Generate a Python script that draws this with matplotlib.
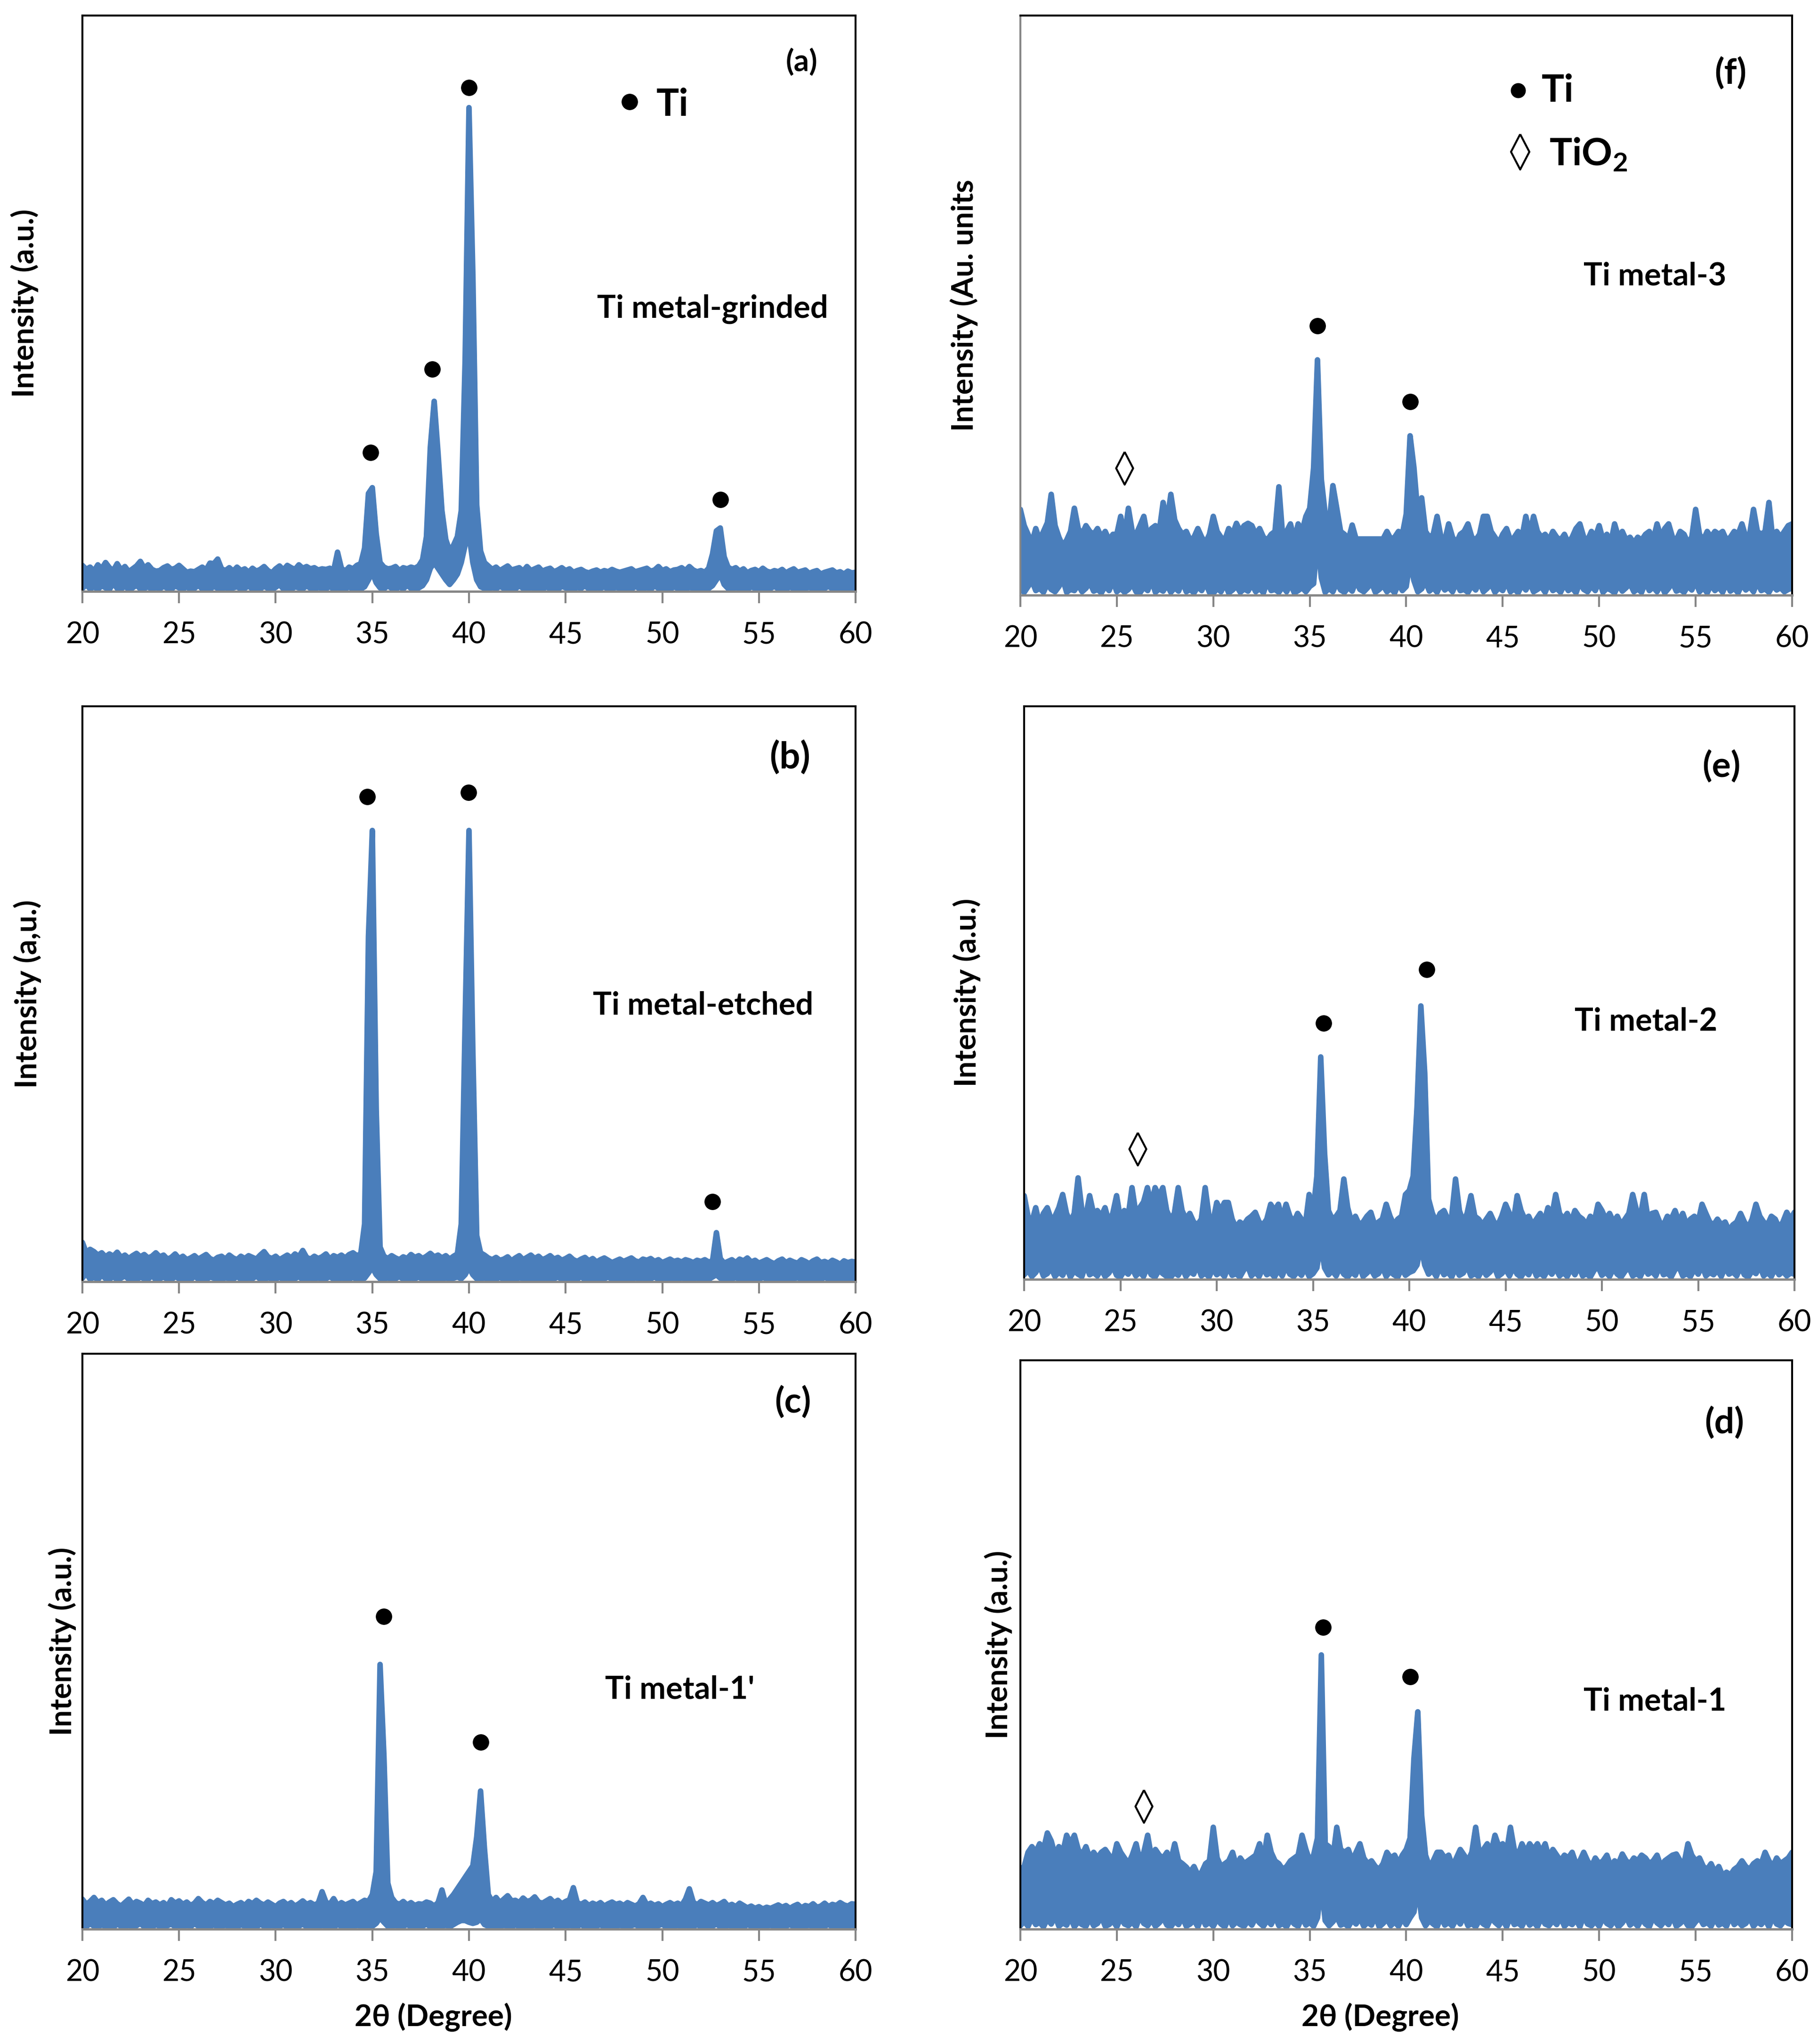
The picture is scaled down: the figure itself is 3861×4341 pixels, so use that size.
import numpy as np
import matplotlib
matplotlib.use('Agg')
import matplotlib.pyplot as plt

plt.rcParams['font.family'] = ['Lato', 'DejaVu Sans']
plt.rcParams['mathtext.fontset'] = 'custom'
plt.rcParams['mathtext.rm'] = 'Lato'
plt.rcParams['mathtext.bf'] = 'Lato:bold'

# 2-theta sampling grid (degrees)
TWO_THETA = np.round(np.arange(201) * 0.2 + 20.0, 1)

# ---- intensity envelopes (percent of panel height) ----
A_UP = [4.5,3.8,4.2,3.5,4.6,3.9,5.0,4.1,3.6,4.8,3.7,4.3,3.4,3.9,4.4,5.2,4.0,4.6,3.8,3.5,
        3.6,4.1,4.4,3.8,4.0,4.5,3.9,3.3,3.5,3.4,3.8,4.2,3.7,4.9,4.8,5.6,3.9,3.6,4.1,3.5,
        4.2,3.6,3.9,3.3,4.0,3.5,3.8,4.3,3.6,3.2,3.9,4.4,3.7,4.5,4.1,3.8,4.6,4.0,4.3,3.9,
        4.1,3.7,3.9,3.8,4.0,3.6,6.8,4.0,3.5,4.2,3.9,4.5,4.8,7.5,17.0,18.0,10.0,5.0,4.2,3.9,
        4.0,4.3,3.6,4.1,3.9,4.2,4.0,4.4,5.5,9.5,25.0,33.0,24.0,14.0,9.0,7.0,8.0,9.5,14.0,40.0,
        84.0,55.0,15.0,7.0,5.0,4.4,3.8,4.2,3.6,4.0,4.4,3.7,3.9,4.1,3.5,4.3,3.6,3.9,4.2,3.5,
        3.8,4.0,3.4,3.7,4.1,3.6,3.9,3.3,3.6,3.8,3.4,3.2,3.5,3.7,3.3,3.6,3.4,3.8,3.5,3.3,
        3.5,3.7,3.9,3.4,3.6,3.8,4.0,3.5,3.7,4.3,3.6,3.9,3.4,3.7,3.8,4.1,3.6,4.3,3.7,3.4,
        3.6,3.3,4.0,6.5,10.5,11.0,6.0,4.2,3.8,4.1,3.5,3.9,3.2,3.6,3.8,3.4,4.0,3.5,3.3,3.6,
        3.4,3.8,3.2,3.6,3.9,3.3,3.5,3.7,3.1,3.4,3.6,3.0,3.3,3.5,3.7,3.2,3.4,3.0,3.5,3.2,
        3.3]
A_LO = [0.5,1.2,0.4,0.8,0.3,1.0,0.6,0.3,1.5,0.5,0.4,0.9,0.3,0.6,1.1,0.4,0.5,0.8,0.3,0.7,
        0.4,0.9,0.5,0.3,1.0,0.6,0.4,0.8,0.3,0.5,1.1,0.4,0.6,0.3,0.9,0.5,0.4,0.7,0.3,0.6,
        0.8,0.4,0.5,1.0,0.3,0.6,0.4,0.9,0.5,0.3,0.7,1.2,0.4,0.5,0.3,0.8,0.6,0.4,1.0,0.5,
        0.3,0.7,0.5,0.4,0.9,0.3,0.6,0.5,0.4,0.8,0.3,0.5,0.4,0.8,2.0,3.3,1.5,0.6,0.4,1.0,
        0.5,0.3,0.8,0.4,1.1,0.5,0.3,0.6,1.0,2.0,4.0,5.0,4.0,3.0,2.0,1.2,2.0,3.0,5.0,8.0,
        10.0,5.0,2.0,0.8,0.5,0.3,0.7,0.4,0.9,0.5,0.3,0.6,0.4,1.0,0.5,0.3,0.7,0.4,0.6,0.3,
        0.8,0.4,0.5,0.3,0.9,0.6,0.4,0.3,0.7,0.5,1.0,0.4,0.3,0.6,0.5,0.8,0.3,0.4,0.7,0.5,
        0.4,0.6,0.3,0.9,0.5,0.4,0.7,0.3,1.0,0.5,0.4,0.6,0.3,0.8,0.5,0.4,0.3,0.7,0.5,0.4,
        0.6,0.3,0.5,1.0,2.0,3.0,1.2,0.5,0.3,0.7,0.4,0.6,0.3,0.8,0.5,0.4,0.6,0.3,0.5,0.9,
        0.4,0.5,0.3,0.8,0.4,0.6,0.3,0.5,0.7,0.4,0.3,0.6,0.5,0.9,0.4,0.3,0.6,0.5,0.4,0.3,
        0.5]

B_UP = [6.8,5.0,5.6,5.2,4.6,5.0,4.3,4.8,4.4,5.1,4.2,4.6,4.0,4.5,4.9,4.3,4.7,4.1,4.4,5.0,
        4.3,4.6,3.9,4.2,4.8,4.0,4.4,3.8,4.1,4.5,3.9,4.3,4.7,4.0,3.7,4.2,4.4,3.9,4.6,4.1,
        3.8,4.4,4.0,4.5,4.2,3.9,4.6,5.2,4.3,4.0,4.4,3.8,4.2,4.6,4.1,4.8,4.3,5.4,4.2,3.9,
        4.4,4.0,4.3,4.8,3.9,4.5,4.2,4.6,4.1,4.7,5.0,4.5,4.8,10.0,60.0,78.4,30.0,6.0,4.4,4.0,
        4.5,4.1,3.8,4.3,4.0,4.7,4.2,4.5,4.0,4.4,4.9,4.3,4.6,4.1,4.5,3.9,4.4,4.8,10.0,45.0,
        78.4,40.0,8.0,5.0,4.6,4.1,3.8,4.2,3.7,3.9,4.3,3.6,4.1,4.5,3.8,4.2,4.6,4.0,4.4,3.8,
        4.1,4.5,3.9,4.2,3.7,4.0,4.4,3.8,3.5,3.9,4.2,3.6,4.0,3.4,3.8,4.1,3.7,3.3,3.6,3.9,
        3.5,3.8,4.1,3.6,3.4,3.9,3.7,4.0,3.5,3.8,3.3,3.6,3.9,3.5,3.7,3.4,3.8,3.6,3.3,3.7,
        3.5,3.8,3.4,3.6,8.5,4.0,3.2,3.5,3.8,3.3,3.9,3.6,4.1,3.4,3.7,3.2,3.5,3.8,3.4,3.1,
        3.6,3.9,3.3,3.7,3.4,3.2,3.8,3.5,3.1,3.6,3.9,3.3,3.5,3.2,3.7,3.4,3.0,3.6,3.3,3.5,
        3.4]
B_LO = [0.6,1.5,0.4,0.8,0.3,1.2,0.5,0.4,0.9,0.3,0.6,1.0,0.4,0.5,0.3,0.8,0.5,0.4,1.1,0.3,
        0.5,0.8,0.4,0.3,0.9,0.5,0.4,0.6,0.3,1.0,0.4,0.5,0.3,0.8,0.6,0.4,0.3,0.7,0.5,0.4,
        0.9,0.4,0.3,0.6,0.5,1.0,0.4,0.3,0.7,0.5,0.4,0.8,0.3,0.6,0.4,0.5,0.9,0.3,0.4,0.6,
        0.4,0.7,0.3,0.5,0.9,0.4,0.3,0.6,0.5,0.4,0.8,0.3,0.5,0.6,1.5,2.5,1.2,0.5,0.4,0.7,
        0.3,0.5,0.9,0.4,0.3,0.6,0.5,0.8,0.4,0.3,0.6,0.4,0.5,0.3,0.7,0.4,0.6,0.8,0.5,1.2,
        2.5,1.2,0.5,0.4,0.7,0.3,0.5,0.4,0.8,0.3,0.6,0.4,0.3,0.7,0.5,0.4,0.6,0.3,0.5,0.4,
        0.6,0.3,0.5,0.8,0.4,0.3,0.6,0.5,0.4,0.9,0.3,0.5,0.4,0.6,0.3,0.5,0.8,0.4,0.3,0.5,
        0.4,0.5,0.3,0.7,0.4,0.6,0.3,0.5,0.8,0.4,0.3,0.6,0.4,0.5,0.3,0.7,0.4,0.3,0.5,0.6,
        0.3,0.5,0.4,0.8,1.2,0.6,0.4,0.3,0.5,0.7,0.4,0.3,0.6,0.4,0.5,0.3,0.8,0.4,0.5,0.3,
        0.5,0.4,0.6,0.3,0.5,0.7,0.4,0.3,0.6,0.4,0.5,0.3,0.8,0.4,0.3,0.5,0.4,0.6,0.3,0.5,
        0.4]

C_UP = [5.2,4.3,4.8,5.5,4.6,5.0,4.2,4.7,5.1,4.4,4.0,4.6,5.2,4.3,4.8,4.5,4.1,5.0,4.4,4.7,
        4.2,4.6,4.0,5.1,4.5,4.9,4.3,4.7,4.1,4.5,5.3,4.6,4.2,4.8,4.4,5.0,4.6,4.2,4.5,3.9,
        4.3,4.6,4.1,4.8,4.4,5.0,4.5,4.2,4.7,4.3,3.9,4.5,4.8,4.2,4.6,4.0,4.4,4.9,4.3,4.6,
        4.2,4.5,6.5,4.7,4.3,5.3,4.1,4.6,4.2,4.5,4.8,4.2,4.6,5.0,4.8,6.0,10.0,46.0,30.0,8.0,
        5.5,4.6,4.3,4.8,4.2,4.6,4.1,4.4,4.3,4.7,4.5,4.0,4.6,6.8,4.3,5.2,6.0,7.0,8.0,9.0,
        10.0,11.0,16.0,24.0,14.0,6.0,4.8,5.5,4.6,5.2,5.8,4.9,5.0,4.6,5.4,4.8,5.0,5.6,4.7,4.5,
        4.9,5.3,4.6,5.0,4.4,4.8,5.1,7.2,4.6,4.3,4.7,4.1,4.5,4.2,4.6,4.0,4.4,4.7,4.3,4.5,
        4.1,4.6,4.3,4.0,4.4,5.5,4.2,4.5,4.1,4.4,3.9,4.3,4.6,4.2,4.5,4.1,5.2,7.0,4.7,4.2,
        4.8,4.5,4.2,4.6,4.1,4.4,4.8,4.0,4.3,3.9,4.5,4.1,3.7,4.0,3.6,3.9,3.5,3.8,3.6,3.9,
        4.2,3.8,4.1,3.6,4.0,4.3,3.7,4.1,3.9,4.4,3.8,4.0,4.5,3.9,4.3,4.1,4.6,4.2,4.0,4.4,
        4.3]
C_LO = [0.7,0.4,1.0,0.5,0.3,0.8,0.4,0.6,0.3,0.9,0.5,0.4,0.7,0.3,0.6,1.0,0.4,0.5,0.3,0.8,
        0.5,0.3,0.6,0.9,0.4,0.5,0.3,0.7,0.4,1.0,0.5,0.3,0.6,0.4,0.8,0.3,0.5,0.7,0.4,0.6,
        0.3,0.8,0.5,0.4,0.6,0.3,0.9,0.5,0.4,0.7,0.3,0.5,0.8,0.4,0.6,0.3,0.5,0.9,0.4,0.6,
        0.5,0.3,0.7,0.4,0.6,0.3,0.8,0.5,0.4,0.6,0.3,0.7,0.5,0.4,0.6,0.5,1.0,2.0,1.2,0.5,
        0.4,0.7,0.3,0.5,0.8,0.4,0.6,0.3,0.5,0.9,0.4,0.3,0.6,0.5,0.7,0.4,0.8,1.2,1.5,1.5,
        1.2,1.0,1.2,1.8,0.8,0.5,0.3,0.6,0.4,0.7,0.5,0.3,0.8,0.4,0.6,0.3,0.5,0.7,0.4,0.6,
        0.3,0.5,0.8,0.4,0.6,0.3,0.7,0.5,0.4,0.9,0.3,0.6,0.4,0.5,0.8,0.3,0.5,0.6,0.4,0.7,
        0.5,0.3,0.6,0.8,0.4,0.5,0.3,0.7,0.4,0.6,0.9,0.3,0.5,0.4,0.7,0.3,0.6,0.5,0.4,0.8,
        0.4,0.6,0.3,0.5,0.9,0.4,0.3,0.7,0.5,0.4,0.6,0.3,0.8,0.5,0.4,0.6,0.3,0.5,0.7,0.4,
        0.6,0.3,0.5,0.8,0.4,0.6,0.3,0.5,0.7,0.4,0.3,0.6,0.5,0.8,0.4,0.3,0.6,0.5,0.4,0.7,
        0.5]

F_UP = [14.8,12.0,10.5,9.0,11.5,9.5,11.0,12.5,17.4,12.0,10.0,8.5,9.5,11.0,15.0,11.5,10.5,12.0,11.0,10.5,
        11.5,10.0,11.0,9.5,10.5,10.5,13.6,10.0,15.0,11.0,10.5,12.0,13.6,10.0,11.5,12.0,11.0,16.0,12.5,17.4,
        13.0,11.5,10.5,11.0,9.5,10.0,11.5,10.0,9.0,10.5,13.6,11.0,10.0,9.5,11.5,10.5,12.4,11.0,12.0,12.4,
        12.0,10.5,11.5,10.0,9.5,10.5,11.0,18.7,10.0,11.0,12.3,9.5,12.3,11.0,13.6,15.0,22.0,40.6,20.0,14.0,
        12.0,18.9,15.0,11.0,10.5,9.5,12.1,9.7,9.7,9.7,9.7,9.7,9.7,9.7,9.7,11.0,9.7,10.0,11.0,10.5,
        14.0,27.5,22.0,14.0,16.8,11.0,10.0,10.5,13.6,10.0,9.5,12.3,10.0,9.0,10.5,11.0,12.3,10.0,9.5,10.5,
        13.6,13.6,11.0,10.0,9.0,10.5,11.5,9.5,10.0,11.0,10.0,13.6,10.5,13.6,11.0,10.0,10.5,9.5,11.0,10.0,
        9.5,10.5,9.0,10.0,11.5,12.3,10.0,9.5,11.0,10.0,12.0,9.5,10.5,9.0,12.3,10.0,11.0,9.5,10.0,9.0,
        10.0,9.5,10.5,11.0,9.5,12.3,10.0,11.5,12.3,10.0,9.5,11.0,10.5,9.0,10.0,14.8,10.5,9.5,11.0,10.0,
        11.0,10.5,11.0,9.5,10.0,11.0,10.5,12.3,10.0,10.5,14.8,11.0,10.5,11.0,16.0,9.5,11.0,10.0,11.0,12.0,
        12.3]
F_LO = [1.0,0.5,1.5,2.5,0.8,1.2,0.5,2.0,1.0,0.6,1.5,2.8,0.5,1.0,0.8,1.8,0.6,1.2,2.2,0.7,
        1.0,0.4,1.6,0.8,2.5,0.6,1.2,0.5,1.0,2.0,0.6,0.4,1.4,0.8,2.6,0.5,1.1,0.7,1.8,0.5,
        1.3,0.7,2.4,0.6,1.0,0.4,1.5,0.8,2.2,0.5,0.3,1.2,0.6,2.0,0.4,0.9,1.6,0.5,1.1,0.7,
        1.9,0.6,1.2,0.4,2.4,0.8,1.0,0.5,1.5,0.6,2.0,0.4,0.8,1.3,0.6,1.5,2.0,10.0,3.0,0.5,
        1.2,0.6,2.2,0.9,0.5,1.4,0.7,2.5,1.0,0.6,1.3,2.2,0.5,1.0,1.7,0.6,1.2,0.4,2.0,0.8,
        1.5,6.0,2.5,0.6,1.1,2.4,0.7,1.3,0.5,2.0,0.9,1.4,0.6,2.2,0.8,1.0,0.5,1.7,0.9,2.3,
        0.6,1.2,2.0,0.5,1.3,0.8,2.4,0.6,1.1,0.4,1.8,0.9,2.2,0.6,1.0,1.5,0.5,2.1,0.8,1.2,
        0.5,1.9,0.8,1.3,0.4,2.2,1.0,0.6,1.6,0.8,2.5,0.5,1.2,0.9,0.4,1.8,0.7,1.3,2.0,0.6,
        1.1,0.5,2.3,0.8,1.4,0.6,1.9,0.4,1.2,2.2,0.7,1.0,0.5,1.6,0.9,2.4,0.6,1.3,0.4,1.8,
        0.8,1.4,0.5,2.1,0.7,1.2,0.4,1.9,0.9,1.5,0.6,2.3,0.8,1.1,0.5,1.7,0.9,1.3,0.6,1.0,
        1.2]

E_UP = [14.6,11.0,10.0,12.5,9.5,11.5,12.5,10.5,11.0,12.5,14.8,11.5,10.0,11.5,17.7,12.0,11.0,14.6,11.5,12.0,
        11.0,12.5,10.0,11.5,14.6,10.5,12.0,11.0,16.0,11.5,12.5,13.5,16.0,13.0,16.0,14.5,16.0,12.0,10.5,11.5,
        16.0,12.0,10.5,11.5,10.0,9.5,10.5,16.0,11.0,10.0,13.4,12.0,13.4,13.4,10.5,9.0,10.0,9.5,10.5,11.0,
        11.7,10.0,9.5,10.5,13.1,12.0,13.1,10.5,13.1,11.0,10.0,11.5,10.5,9.5,14.8,11.5,18.0,38.8,22.0,12.0,
        10.5,11.0,12.0,17.5,12.5,10.0,11.0,9.5,10.0,11.0,11.7,9.5,10.0,10.5,13.1,11.0,9.5,10.5,11.0,14.8,
        15.5,18.0,30.0,47.7,36.0,14.0,11.5,10.0,11.5,12.0,10.5,11.0,17.5,12.0,10.0,11.5,14.6,11.0,10.5,9.5,
        10.5,11.5,10.0,9.5,11.0,13.1,11.5,10.0,14.6,12.0,10.5,11.0,9.5,10.5,11.5,10.0,12.5,11.0,14.8,11.5,
        10.5,11.5,10.0,12.0,11.0,10.5,9.5,11.0,10.0,13.1,12.0,10.5,11.5,10.0,11.0,9.5,10.5,11.5,14.8,12.0,
        11.0,14.8,10.5,11.5,11.7,10.0,9.5,11.0,10.5,12.0,10.0,11.5,9.5,10.5,11.0,10.0,13.1,11.5,10.0,9.5,
        10.5,9.5,10.0,8.5,9.5,10.0,11.5,10.0,9.0,10.5,13.1,11.0,10.0,9.5,11.0,10.5,9.0,10.0,11.7,10.5,
        11.7]
E_LO = [0.8,1.6,0.5,1.2,2.4,0.6,1.0,2.0,0.5,1.3,0.7,2.2,0.4,1.5,0.9,0.5,2.6,0.8,1.2,0.6,
        1.8,0.5,1.1,2.3,0.7,0.4,1.5,0.9,2.0,0.6,1.3,0.5,2.2,0.8,0.4,1.6,1.0,0.5,0.3,1.2,
        0.7,2.0,0.5,1.4,0.9,2.5,0.6,1.1,0.4,1.9,0.8,1.3,0.5,2.2,0.7,1.0,0.4,1.6,2.4,0.6,
        1.3,0.5,2.0,0.8,1.2,0.4,1.7,0.6,2.3,0.9,0.5,1.4,0.7,2.0,0.5,1.0,2.0,6.4,2.0,0.8,
        1.5,0.6,2.1,0.9,0.4,1.3,0.7,2.4,0.5,1.1,1.8,0.6,1.0,2.2,0.5,1.4,0.8,0.4,1.9,0.7,
        1.2,1.5,2.5,6.0,2.5,0.9,1.6,0.5,2.2,0.8,1.3,0.4,2.0,0.7,1.1,2.4,0.6,1.0,0.5,1.8,
        0.7,1.3,2.3,0.5,1.0,1.8,0.6,2.1,0.9,0.4,1.5,0.8,2.4,0.6,1.1,0.5,1.7,0.9,2.0,0.6,
        1.2,0.5,1.9,0.8,2.3,0.6,1.0,0.4,1.6,2.2,0.7,1.3,0.5,1.9,0.9,0.4,1.4,2.1,0.6,1.0,
        0.5,2.0,0.9,1.4,0.6,2.3,0.8,1.1,0.4,1.7,2.2,0.6,1.0,0.5,1.8,0.9,2.4,0.6,1.2,0.8,
        1.6,0.5,2.1,0.9,1.3,0.6,2.2,0.8,0.4,1.5,1.0,2.3,0.6,1.2,0.5,1.9,0.8,1.4,0.6,1.1,
        0.9]

D_UP = [10.5,11.0,13.5,14.5,13.5,15.0,14.0,16.9,15.5,13.0,14.5,13.5,16.5,15.0,16.5,14.0,13.0,14.5,12.5,13.5,
        12.5,13.5,14.0,13.0,12.0,15.0,13.5,12.5,11.5,13.0,15.0,12.0,13.5,16.5,12.5,14.0,13.0,12.5,13.5,12.0,
        15.0,12.0,11.5,10.9,10.0,11.0,9.5,10.0,11.5,12.0,17.9,12.5,11.0,11.5,12.0,13.5,11.0,12.5,11.5,12.0,
        12.5,13.0,15.0,12.0,16.5,13.5,12.0,11.5,10.5,11.0,12.0,12.5,13.0,16.5,14.0,12.0,13.0,16.0,48.2,15.0,
        14.5,12.5,17.9,14.0,13.5,14.0,12.0,13.5,15.0,12.5,11.5,12.0,11.0,10.5,11.5,13.5,12.5,13.0,11.5,13.0,
        14.0,16.0,30.0,38.2,20.0,13.0,11.0,12.0,13.5,13.5,12.5,13.0,11.0,12.5,14.0,13.0,12.0,13.5,17.9,13.0,
        14.0,15.0,13.5,16.5,14.5,15.0,13.5,17.9,14.0,13.0,15.0,13.5,15.0,14.0,15.0,13.5,15.0,12.5,14.0,13.0,
        12.0,13.0,12.5,13.5,11.5,12.0,13.5,12.0,11.0,12.5,11.5,12.0,13.0,11.0,12.0,11.5,13.2,12.0,11.5,12.5,
        12.0,13.0,12.5,11.5,12.0,13.0,11.0,12.0,12.5,13.0,13.2,12.0,11.5,15.0,13.0,12.0,12.5,11.0,10.5,11.5,
        10.0,11.0,9.4,10.0,9.5,10.5,11.0,12.0,11.0,10.5,11.5,12.0,11.5,13.5,12.0,11.0,12.5,11.5,12.0,12.5,
        13.5]
D_LO = [0.6,1.4,0.5,2.0,0.8,1.2,0.4,1.8,0.9,2.3,0.5,1.1,0.7,2.1,0.4,1.3,0.8,0.5,1.9,0.6,
        1.0,2.2,0.5,0.8,1.5,0.4,2.0,0.9,0.6,1.3,0.4,2.3,1.0,0.6,1.7,0.5,1.1,2.0,0.7,0.4,
        1.4,0.8,2.1,0.5,0.9,1.6,0.4,2.2,0.7,1.2,0.5,1.8,0.9,0.4,2.0,0.6,1.3,0.8,0.5,1.5,
        0.7,2.0,1.1,0.5,1.6,0.8,2.3,0.6,1.0,0.4,1.7,0.9,0.5,2.1,0.7,1.2,0.5,2.0,7.9,1.5,
        0.6,1.3,2.2,0.7,1.0,0.4,1.6,0.9,2.0,0.5,1.2,0.7,2.3,0.4,1.0,1.8,0.6,1.3,0.5,1.9,
        0.8,2.0,3.0,7.5,2.0,0.6,1.5,0.9,0.4,2.1,0.7,1.2,0.5,1.8,0.9,2.3,0.6,1.0,0.4,1.6,
        0.9,0.5,2.0,1.2,0.6,1.7,0.4,2.2,0.8,1.1,0.5,1.9,0.7,1.3,0.4,2.0,0.9,0.6,1.5,0.8,
        2.1,0.5,1.2,0.8,1.7,0.4,2.3,0.9,0.6,1.4,0.5,2.0,1.0,0.6,1.6,0.4,1.1,2.2,0.7,1.3,
        0.5,1.8,0.9,0.4,2.1,1.1,0.6,1.5,0.8,2.3,0.5,1.0,1.7,0.6,0.4,1.3,2.0,0.8,1.2,0.5,
        1.9,0.7,1.1,0.5,2.2,0.8,1.4,0.6,1.0,2.0,0.5,1.3,0.8,1.7,0.4,2.1,0.9,0.6,1.5,1.0,
        0.8]

# ---- peak markers (2-theta, percent height) ----
A_TI_X = [34.9, 38.1, 40.0, 53.0];  A_TI_Y = [24.1, 38.6, 87.5, 15.9]
B_TI_X = [34.75, 39.97, 52.6];      B_TI_Y = [84.3, 85.0, 13.9]
C_TI_X = [35.6, 40.6];              C_TI_Y = [54.3, 32.5]
F_TI_X = [35.4, 40.2];              F_TI_Y = [46.5, 33.4]
F_TIO2_X = [25.4];                  F_TIO2_Y = [21.9]
E_TI_X = [35.55, 40.9];             E_TI_Y = [44.7, 54.1]
E_TIO2_X = [25.9];                  E_TIO2_Y = [22.8]
D_TI_X = [35.7, 40.2];              D_TI_Y = [53.1, 44.4]
D_TIO2_X = [26.4];                  D_TIO2_Y = [21.6]

SAMPLES = ["Ti metal-grinded", "Ti metal-etched", "Ti metal-1'", "Ti metal-3", "Ti metal-2", "Ti metal-1"]
PANEL_TAGS = ["(a)", "(b)", "(c)", "(f)", "(e)", "(d)"]
YLABELS = ["Intensity (a.u.)", "Intensity (a,u.)", "Intensity (a.u.)",
           "Intensity (Au. units", "Intensity (a.u.)", "Intensity (a.u.)"]
XTICKS = [20, 25, 30, 35, 40, 45, 50, 55, 60]

for arr in (A_UP, A_LO, B_UP, B_LO, C_UP, C_LO, F_UP, F_LO, E_UP, E_LO, D_UP, D_LO):
    assert len(arr) == len(TWO_THETA), len(arr)

BLUE = '#4a7ebb'
GRAY = '#868686'
W, H = 3862, 4341
# slim open diamond used for the TiO2 reflections (width about half the height)
DIAMOND = [(0, 1), (0.52, 0), (0, -1), (-0.52, 0), (0, 1)]

fig = plt.figure(figsize=(W / 100, H / 100), dpi=100)

panels = [
    dict(rect=[0.0453, 0.7107, 0.4252, 0.2817], up=A_UP, lo=A_LO, ti=(A_TI_X, A_TI_Y), tio2=None,
         ylx=52, tag=(57.2, 92.0), tagsize=46, name=(52.6, 49.0), left_gray=False),
    dict(rect=[0.0453, 0.3730, 0.4252, 0.2815], up=B_UP, lo=B_LO, ti=(B_TI_X, B_TI_Y), tio2=None,
         ylx=58, tag=(56.6, 91.0), tagsize=56, name=(52.1, 48.0), left_gray=False),
    dict(rect=[0.0453, 0.0562, 0.4252, 0.2815], up=C_UP, lo=C_LO, ti=(C_TI_X, C_TI_Y), tio2=None,
         ylx=132, tag=(56.75, 91.6), tagsize=54, name=(50.9, 41.6), left_gray=False),
    dict(rect=[0.5611, 0.7088, 0.4244, 0.2836], up=F_UP, lo=F_LO, ti=(F_TI_X, F_TI_Y), tio2=(F_TIO2_X, F_TIO2_Y),
         ylx=2047, tag=(56.8, 90.0), tagsize=54, name=(52.9, 55.0), left_gray=True),
    dict(rect=[0.5632, 0.3741, 0.4236, 0.2804], up=E_UP, lo=E_LO, ti=(E_TI_X, E_TI_Y), tio2=(E_TIO2_X, E_TIO2_Y),
         ylx=2053, tag=(56.2, 89.5), tagsize=54, name=(52.3, 45.0), left_gray=False),
    dict(rect=[0.5611, 0.0562, 0.4244, 0.2783], up=D_UP, lo=D_LO, ti=(D_TI_X, D_TI_Y), tio2=(D_TIO2_X, D_TIO2_Y),
         ylx=2120, tag=(56.5, 89.0), tagsize=54, name=(52.9, 40.0), left_gray=False),
]

axes = []
for i, p in enumerate(panels):
    ax = fig.add_axes(p['rect'])
    axes.append(ax)
    ax.fill_between(TWO_THETA, p['lo'], p['up'], color=BLUE, lw=0, zorder=2)
    ax.plot(TWO_THETA, p['up'], color=BLUE, lw=8.5, solid_joinstyle='round', solid_capstyle='round', zorder=2)
    ax.plot(TWO_THETA, p['lo'], color=BLUE, lw=8.5, solid_joinstyle='round', solid_capstyle='round', zorder=2)
    ax.plot(p['ti'][0], p['ti'][1], 'o', color='black', ms=24, zorder=4, clip_on=False)
    if p['tio2'] is not None:
        ax.plot(p['tio2'][0], p['tio2'][1], marker=DIAMOND, ls='none', mfc='white', mec='black',
                mew=3, ms=50, zorder=4)
    ax.set_xlim(20, 60)
    ax.set_ylim(0, 100)
    ax.set_xticks(XTICKS)
    ax.set_xticklabels([str(t) for t in XTICKS])
    ax.set_yticks([])
    ax.tick_params(axis='x', direction='out', length=18, width=3, color=GRAY,
                   labelsize=45, pad=28, labelcolor='black')
    for s in ('top', 'right', 'left'):
        ax.spines[s].set_color('black')
        ax.spines[s].set_linewidth(3)
    if p['left_gray']:
        ax.spines['left'].set_color(GRAY)
    ax.spines['bottom'].set_color(GRAY)
    ax.spines['bottom'].set_linewidth(3.5)
    ax.spines['bottom'].set_zorder(5)
    ax.text(p['tag'][0], p['tag'][1], PANEL_TAGS[i], ha='center', va='center',
            fontsize=p['tagsize'], fontweight='bold')
    ax.text(p['name'][0], p['name'][1], SAMPLES[i], ha='center', va='center',
            fontsize=48, fontweight='bold')
    r = p['rect']
    fig.text(p['ylx'] / W, r[1] + r[3] / 2, YLABELS[i], rotation=90, ha='center', va='center',
             fontsize=46, fontweight='bold')

# legends
axA = axes[0]
axA.plot([48.3], [85.0], 'o', color='black', ms=24)
axA.text(49.7, 84.5, 'Ti', ha='left', va='center', fontsize=58, fontweight='bold')
axF = axes[3]
axF.plot([45.8], [87.1], 'o', color='black', ms=22)
axF.text(47.0, 87.0, 'Ti', ha='left', va='center', fontsize=58, fontweight='bold')
axF.plot([45.9], [76.5], marker=DIAMOND, ls='none', mfc='white', mec='black', mew=3, ms=54)
axF.text(47.4, 76.0, r'TiO$_{\mathbf{2}}$', ha='left', va='center', fontsize=58, fontweight='bold')

# x labels
fig.text(0.2382, 0.0131, '2θ (Degree)', ha='center', va='center', fontsize=46, fontweight='bold')
fig.text(0.7590, 0.0131, '2θ (Degree)', ha='center', va='center', fontsize=46, fontweight='bold')

fig.savefig('out.png', dpi=100, facecolor='white')
